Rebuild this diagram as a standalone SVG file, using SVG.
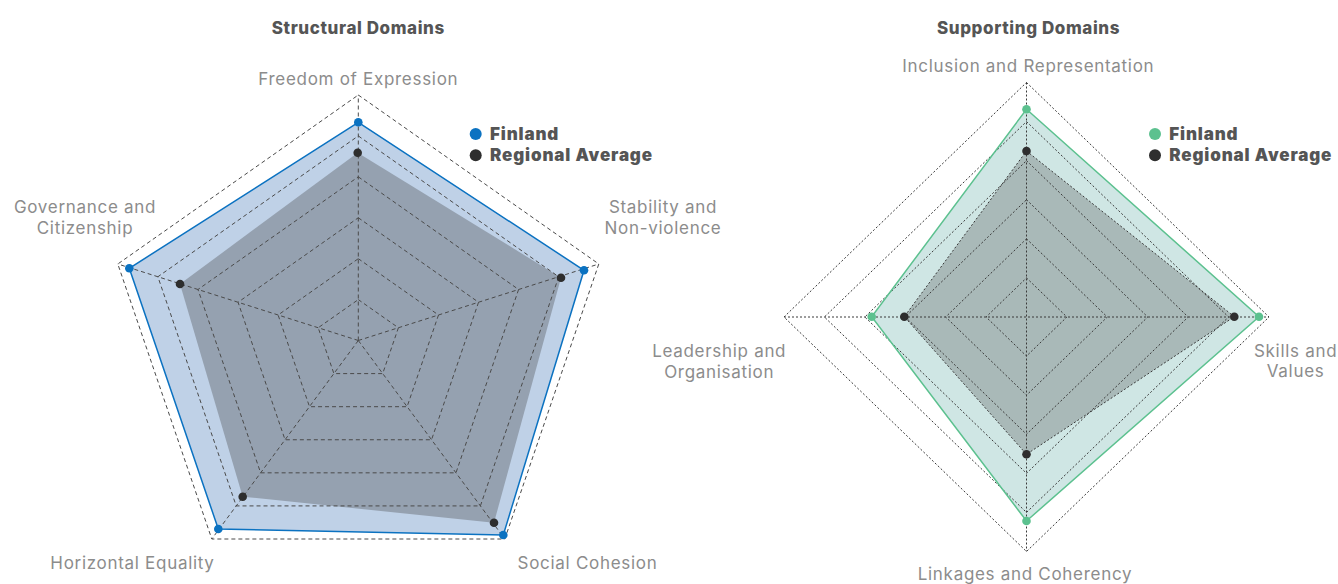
<svg xmlns="http://www.w3.org/2000/svg" width="1338" height="584" viewBox="0 0 1338 584">
<style>
text{font-family:Inter,"Liberation Sans",sans-serif;}
.title{font-size:17px;font-weight:800;fill:#555;text-anchor:middle;letter-spacing:0.6px;}
.lab{font-size:17px;fill:#8c8c8c;text-anchor:middle;letter-spacing:0.7px;}
.leg{font-size:17px;font-weight:900;fill:#555;letter-spacing:0.85px;}
.g1{fill:none;stroke:#4a4a4a;stroke-width:1;stroke-dasharray:4 3;}
.g2{fill:none;stroke:#3a3a3a;stroke-width:1;stroke-dasharray:2 2;}
.blue{fill:#0b72c1;}
.green{fill:#5cc18f;}
.dark{fill:#2e2e2e;}
</style>
<rect width="1338" height="584" fill="#fff"/>

<g id="structural-chart">
  <g id="structural-series-fill">
    <polygon points="358.3,122.3 584,270.3 503.3,535 218.3,529 129.3,268.3" fill="#bfd1e7"/>
    <polygon points="357.7,152.7 561,277.7 494,522.7 242.7,496.7 180,284" fill="#95a1b0"/>
  </g>
  <g id="structural-grid">
    <polygon class="g1" points="358.3,299.6 398.4,327.75 382.7,373.6 333.9,373.6 318.2,327.75"/>
    <polygon class="g1" points="358.3,258.67 438.5,315 407.1,406.7 309.5,406.7 278.1,315"/>
    <polygon class="g1" points="358.3,217.75 478.55,302.25 431.55,439.75 285.05,439.75 238.05,302.25"/>
    <polygon class="g1" points="358.3,176.83 518.6,289.5 455.97,472.83 260.63,472.83 197.97,289.5"/>
    <polygon class="g1" points="358.3,135.92 558.72,276.75 480.38,505.92 236.22,505.92 157.88,276.75"/>
    <polygon class="g1" points="358.3,95 598.8,264 504.8,539 211.8,539 117.8,264"/>
    <path class="g1" d="M358.3,340.5L358.3,95M358.3,340.5L598.8,264M358.3,340.5L504.8,539M358.3,340.5L211.8,539M358.3,340.5L117.8,264"/>
  </g>
  <g id="structural-series-line">
    <polygon points="358.3,122.3 584,270.3 503.3,535 218.3,529 129.3,268.3" fill="none" stroke="#0b72c1" stroke-width="1.5"/>
    <g class="blue">
      <circle cx="358.3" cy="122.3" r="4.3"/><circle cx="584" cy="270.3" r="4.3"/><circle cx="503.3" cy="535" r="4.3"/><circle cx="218.3" cy="529" r="4.3"/><circle cx="129.3" cy="268.3" r="4.3"/>
    </g>
    <g class="dark">
      <circle cx="357.7" cy="152.7" r="4.3"/><circle cx="561" cy="277.7" r="4.3"/><circle cx="494" cy="522.7" r="4.3"/><circle cx="242.7" cy="496.7" r="4.3"/><circle cx="180" cy="284" r="4.3"/>
    </g>
  </g>
  <g id="structural-labels">
    <text class="title" x="358.3" y="34">Structural Domains</text>
    <text class="lab" x="358.3" y="85">Freedom of Expression</text>
    <text class="lab" x="85" y="212.7">Governance and</text>
    <text class="lab" x="85" y="234.3">Citizenship</text>
    <text class="lab" x="663" y="212.7">Stability and</text>
    <text class="lab" x="663" y="234.3">Non-violence</text>
    <text class="lab" x="132.5" y="569">Horizontal Equality</text>
    <text class="lab" x="587.5" y="569">Social Cohesion</text>
  </g>
  <g id="structural-legend">
    <circle class="blue" cx="475.7" cy="134" r="6"/>
    <text class="leg" x="490" y="139.5">Finland</text>
    <circle class="dark" cx="475.7" cy="155.3" r="6"/>
    <text class="leg" x="490" y="160.8">Regional Average</text>
  </g>
</g>

<g id="supporting-chart">
  <g id="supporting-series-fill">
    <polygon points="1026.5,109.3 1259,316.7 1026.5,521 871.7,316.7" fill="#cfe6e4"/>
    <polygon points="1026.5,151 1234.3,316.7 1026.5,454.3 904.3,316.7" fill="#a9b9b8" stroke="#3a3a3a" stroke-width="1" stroke-dasharray="2 2"/>
  </g>
  <g id="supporting-grid">
    <polygon class="g2" points="1026.5,277.92 1066.92,317 1026.5,356.08 986.08,317"/>
    <polygon class="g2" points="1026.5,238.83 1107.33,317 1026.5,395.17 945.67,317"/>
    <polygon class="g2" points="1026.5,199.75 1147.75,317 1026.5,434.25 905.25,317"/>
    <polygon class="g2" points="1026.5,160.67 1188.17,317 1026.5,473.33 864.83,317"/>
    <polygon class="g2" points="1026.5,121.58 1228.58,317 1026.5,512.42 824.42,317"/>
    <polygon class="g2" points="1026.5,82.5 1269,317 1026.5,551.5 784,317"/>
    <path class="g2" d="M1026.5,82.5L1026.5,551.5M784,317L1269,317"/>
  </g>
  <g id="supporting-series-line">
    <polygon points="1026.5,109.3 1259,316.7 1026.5,521 871.7,316.7" fill="none" stroke="#5cc18f" stroke-width="1.5"/>
    <g class="green">
      <circle cx="1026.5" cy="109.3" r="4.3"/><circle cx="1259" cy="316.7" r="4.3"/><circle cx="1026.5" cy="521" r="4.3"/><circle cx="871.7" cy="316.7" r="4.3"/>
    </g>
    <g class="dark">
      <circle cx="1026.5" cy="151" r="4.3"/><circle cx="1234.3" cy="316.7" r="4.3"/><circle cx="1026.5" cy="454.3" r="4.3"/><circle cx="904.3" cy="316.7" r="4.3"/>
    </g>
  </g>
  <g id="supporting-labels">
    <text class="title" x="1028.5" y="34">Supporting Domains</text>
    <text class="lab" x="1028.3" y="71.7">Inclusion and Representation</text>
    <text class="lab" x="719.2" y="356.7">Leadership and</text>
    <text class="lab" x="719.2" y="378.3">Organisation</text>
    <text class="lab" x="1295.6" y="356.7">Skills and</text>
    <text class="lab" x="1295.6" y="377.3">Values</text>
    <text class="lab" x="1025" y="580">Linkages and Coherency</text>
  </g>
  <g id="supporting-legend">
    <circle class="green" cx="1155" cy="134" r="6"/>
    <text class="leg" x="1169.3" y="139.5">Finland</text>
    <circle class="dark" cx="1155" cy="155.3" r="6"/>
    <text class="leg" x="1169.3" y="160.8">Regional Average</text>
  </g>
</g>
</svg>
